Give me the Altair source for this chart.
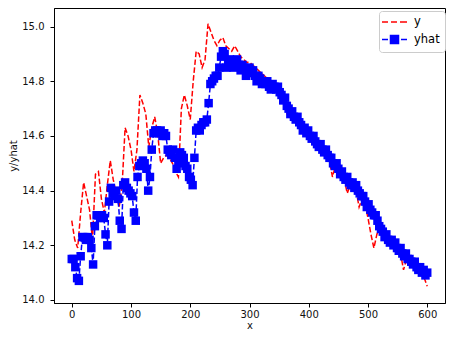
import altair as alt
import pandas as pd

X = list(range(0, 605, 5))

Y = [14.29, 14.22, 14.19, 14.32, 14.43, 14.38, 14.33, 14.22, 14.46, 14.47,
     14.37, 14.32, 14.42, 14.51, 14.44, 14.39, 14.34, 14.42, 14.63, 14.60,
     14.55, 14.47, 14.55, 14.75, 14.72, 14.68, 14.56, 14.63, 14.67, 14.61,
     14.50, 14.52, 14.53, 14.52, 14.50, 14.47, 14.45, 14.70, 14.75, 14.71,
     14.66, 14.80, 14.91, 14.90, 14.85, 14.88, 15.01, 14.98, 14.95, 14.93,
     14.95, 14.96, 14.93, 14.92, 14.91, 14.93, 14.91, 14.89, 14.88, 14.87,
     14.87, 14.86, 14.85, 14.84, 14.83, 14.82, 14.81, 14.80, 14.78, 14.77,
     14.76, 14.74, 14.71, 14.67, 14.67, 14.66, 14.66, 14.64, 14.61, 14.60,
     14.59, 14.58, 14.57, 14.56, 14.55, 14.54, 14.52, 14.51, 14.45, 14.49,
     14.47, 14.45, 14.44, 14.39, 14.42, 14.41, 14.40, 14.34, 14.37, 14.35,
     14.30, 14.24, 14.19, 14.24, 14.27, 14.24, 14.23, 14.21, 14.21, 14.19,
     14.18, 14.17, 14.11, 14.15, 14.14, 14.13, 14.12, 14.11, 14.10, 14.08,
     14.05]

X_HAT = list(range(0, 601, 3))

YHAT = [14.15, 14.15, 14.12, 14.08, 14.07, 14.16, 14.23, 14.23, 14.22, 14.23,
        14.22, 14.19, 14.13, 14.27, 14.31, 14.31, 14.30, 14.31, 14.30, 14.24,
        14.20, 14.36, 14.41, 14.39, 14.38, 14.40, 14.37, 14.29, 14.26, 14.42,
        14.43, 14.41, 14.40, 14.39, 14.38, 14.32, 14.29, 14.45, 14.49, 14.50,
        14.51, 14.50, 14.48, 14.40, 14.45, 14.55, 14.61, 14.62, 14.62, 14.61,
        14.62, 14.60, 14.61, 14.60, 14.55, 14.54, 14.53, 14.55, 14.52, 14.48,
        14.50, 14.54, 14.53, 14.52, 14.49, 14.48, 14.45, 14.44, 14.42, 14.52,
        14.62, 14.63, 14.62, 14.64, 14.65, 14.65, 14.66, 14.72, 14.79, 14.80,
        14.81, 14.82, 14.82, 14.85, 14.89, 14.91, 14.90, 14.85, 14.87, 14.88,
        14.86, 14.85, 14.87, 14.88, 14.86, 14.84, 14.86, 14.85, 14.82, 14.84,
        14.85, 14.83, 14.84, 14.82, 14.80, 14.82, 14.81, 14.79, 14.80, 14.79,
        14.80, 14.78, 14.77, 14.79, 14.78, 14.77, 14.78, 14.76, 14.75, 14.73,
        14.74, 14.71, 14.70, 14.68, 14.69, 14.67, 14.66, 14.67, 14.65, 14.64,
        14.62, 14.63, 14.61, 14.62, 14.60, 14.59, 14.60, 14.58, 14.57, 14.56,
        14.57, 14.55, 14.54, 14.55, 14.53, 14.52, 14.52, 14.50, 14.49, 14.50,
        14.48, 14.46, 14.47, 14.45, 14.44, 14.45, 14.43, 14.42, 14.43, 14.41,
        14.42, 14.40, 14.39, 14.38, 14.38, 14.36, 14.34, 14.35, 14.33, 14.32,
        14.31, 14.31, 14.29, 14.27, 14.26, 14.25, 14.23, 14.24, 14.22, 14.21,
        14.22, 14.20, 14.21, 14.19, 14.18, 14.19, 14.17, 14.16, 14.17, 14.15,
        14.15, 14.14, 14.13, 14.14, 14.12, 14.11, 14.12, 14.10, 14.11, 14.09,
        14.10]

SERIES = ["y", "yhat"]
COLORS = ["red", "blue"]
X_TICKS = [0, 100, 200, 300, 400, 500, 600]
Y_TICKS = [14.0, 14.2, 14.4, 14.6, 14.8, 15.0]

df_y = pd.DataFrame({"x": X, "y": Y})
df_hat = pd.DataFrame({"x": X_HAT, "yhat": YHAT})
legend_df = pd.DataFrame({"series": SERIES, "x": [X[0], X[0]], "v": [Y[0], YHAT[0]]})

FONT = "DejaVu Sans"
xscale = alt.Scale(domain=[-30, 630], nice=False, zero=False)
yscale = alt.Scale(domain=[13.989, 15.068], nice=False, zero=False)
xaxis = alt.Axis(values=X_TICKS, title="x", format="d")
yaxis = alt.Axis(values=Y_TICKS, title="y/yhat", format=".1f")

DASH = [5.5, 2.4]

line_y = alt.Chart(df_y).mark_line(color="red", strokeWidth=1.5, strokeDash=DASH).encode(
    x=alt.X("x:Q", scale=xscale, axis=xaxis),
    y=alt.Y("y:Q", scale=yscale, axis=yaxis),
    order="x:Q",
)

line_yhat = alt.Chart(df_hat).mark_line(color="blue", strokeWidth=1.5, strokeDash=DASH).encode(
    x=alt.X("x:Q", scale=xscale, axis=xaxis),
    y=alt.Y("yhat:Q", scale=yscale, axis=yaxis),
    order="x:Q",
)

pts_yhat = alt.Chart(df_hat).mark_square(color="blue", size=72, opacity=1).encode(
    x=alt.X("x:Q", scale=xscale, axis=xaxis),
    y=alt.Y("yhat:Q", scale=yscale, axis=yaxis),
)

PATH_Y = "M-1.6,0H-0.4M0.2,0H1.4M2.0,0H3.4"
PATH_YHAT = "M-1.6,0H-0.4M2.2,0H3.4M0.1,-0.8H1.7V0.8H0.1Z"

legend = alt.Legend(
    title=None, orient="none", legendX=325, legendY=3,
    padding=5, strokeColor="#cccccc", fillColor="white", cornerRadius=3,
    labelFont=FONT, labelFontSize=11.5, labelColor="#000",
    labelOffset=18, rowPadding=4.5, symbolSize=100,
    symbolStrokeWidth=1.5, symbolOpacity=1,
)

legend_layer = alt.Chart(legend_df).transform_filter("datum.x < -1000").mark_point(
    filled=True, opacity=1, strokeWidth=1.5
).encode(
    x=alt.X("x:Q", scale=xscale, axis=xaxis),
    y=alt.Y("v:Q", scale=yscale, axis=yaxis),
    fill=alt.Fill("series:N", scale=alt.Scale(domain=SERIES, range=COLORS), legend=legend),
    stroke=alt.Stroke("series:N", scale=alt.Scale(domain=SERIES, range=COLORS), legend=legend),
    shape=alt.Shape("series:N", scale=alt.Scale(domain=SERIES, range=[PATH_Y, PATH_YHAT]), legend=legend),
)

chart = alt.layer(line_y, line_yhat, pts_yhat, legend_layer).properties(
    width=391, height=295,
    autosize=alt.AutoSizeParams(type="none"),
    padding={"left": 46, "top": 0, "right": 1, "bottom": 28},
).configure_view(
    stroke="#000", strokeWidth=1
).configure_axis(
    grid=False, domainColor="#000", domainWidth=1, tickColor="#000", tickSize=4,
    tickWidth=1, labelFont=FONT, labelFontSize=10, labelColor="#111",
    titleFont=FONT, titleFontSize=10, titleFontWeight="normal", titleColor="#111",
).configure_axisY(
    labelPadding=6, titlePadding=3
).configure_axisX(
    labelPadding=2, titlePadding=1
)

chart.save("out.html", embed_options={"renderer": "svg", "actions": False})
